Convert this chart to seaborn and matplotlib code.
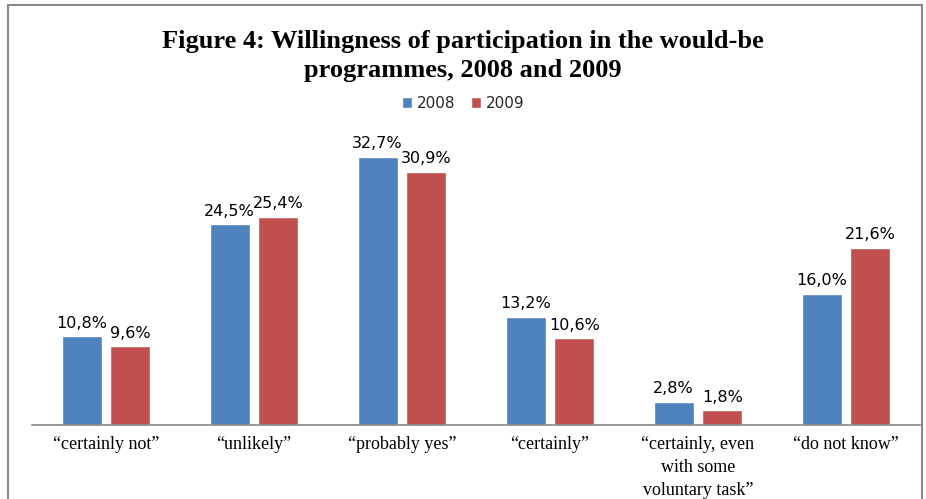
import matplotlib
matplotlib.use("Agg")
import matplotlib.pyplot as plt
import seaborn as sns
import pandas as pd
from matplotlib.patches import Patch, Rectangle

categories = ["\u201ccertainly not\u201d", "\u201cunlikely\u201d", "\u201cprobably yes\u201d",
              "\u201ccertainly\u201d", "\u201ccertainly, even\nwith some\nvoluntary task\u201d",
              "\u201cdo not know\u201d"]
years = ["2008", "2009"]
values_2008 = [10.8, 24.5, 32.7, 13.2, 2.8, 16.0]
values_2009 = [9.6, 25.4, 30.9, 10.6, 1.8, 21.6]
colors = ["#4F81BD", "#C0504D"]

df = pd.DataFrame({
    "category": categories * 2,
    "year": [years[0]] * len(categories) + [years[1]] * len(categories),
    "value": values_2008 + values_2009,
})

sns.set_theme(style="white")
fig = plt.figure(figsize=(9.26, 4.99), dpi=100)
ax = fig.add_axes([32/926, 1 - 425/499, 888/926, (425 - 138)/499])

sns.barplot(data=df, x="category", y="value", hue="year", palette=colors,
            order=categories, hue_order=years, width=0.66, gap=0.18,
            saturation=1, ax=ax, legend=False)

for container in ax.containers:
    ax.bar_label(container, labels=[f"{v:.1f}%".replace(".", ",") for v in container.datavalues],
                 padding=4, fontsize=11.5, family="DejaVu Sans", color="black")

ax.set_ylim(0, 35)
ax.set_xlim(-0.5, 5.5)
ax.set_yticks([])
ax.set_xlabel("")
ax.set_ylabel("")
for s in ["top", "right", "left"]:
    ax.spines[s].set_visible(False)
ax.spines["bottom"].set_color("#888888")
ax.spines["bottom"].set_linewidth(1.2)
ax.tick_params(axis="x", length=0, pad=8)
for lbl in ax.get_xticklabels():
    lbl.set_fontfamily("Liberation Serif")
    lbl.set_fontsize(13)
    lbl.set_color("black")
    lbl.set_linespacing(1.45)

fig.text(0.5, 0.94, "Figure 4: Willingness of participation in the would-be\nprogrammes, 2008 and 2009",
         ha="center", va="top", family="Liberation Serif", fontweight="bold", fontsize=19,
         linespacing=1.35, color="black")

handles = [Patch(facecolor=c, label=y) for c, y in zip(colors, years)]
fig.legend(handles=handles, loc="center", bbox_to_anchor=(0.5, 1 - 103/499), ncol=2,
           frameon=False, handlelength=0.7, handleheight=0.7,
           handletextpad=0.3, columnspacing=1.0, prop={"family": "DejaVu Sans", "size": 11})

fig.patches.append(Rectangle((8/926, -0.1), (922 - 8)/926, 1.1 - 5/499, transform=fig.transFigure,
                             fill=False, edgecolor="#888888", linewidth=1.5))

fig.savefig("out.png", dpi=100)
